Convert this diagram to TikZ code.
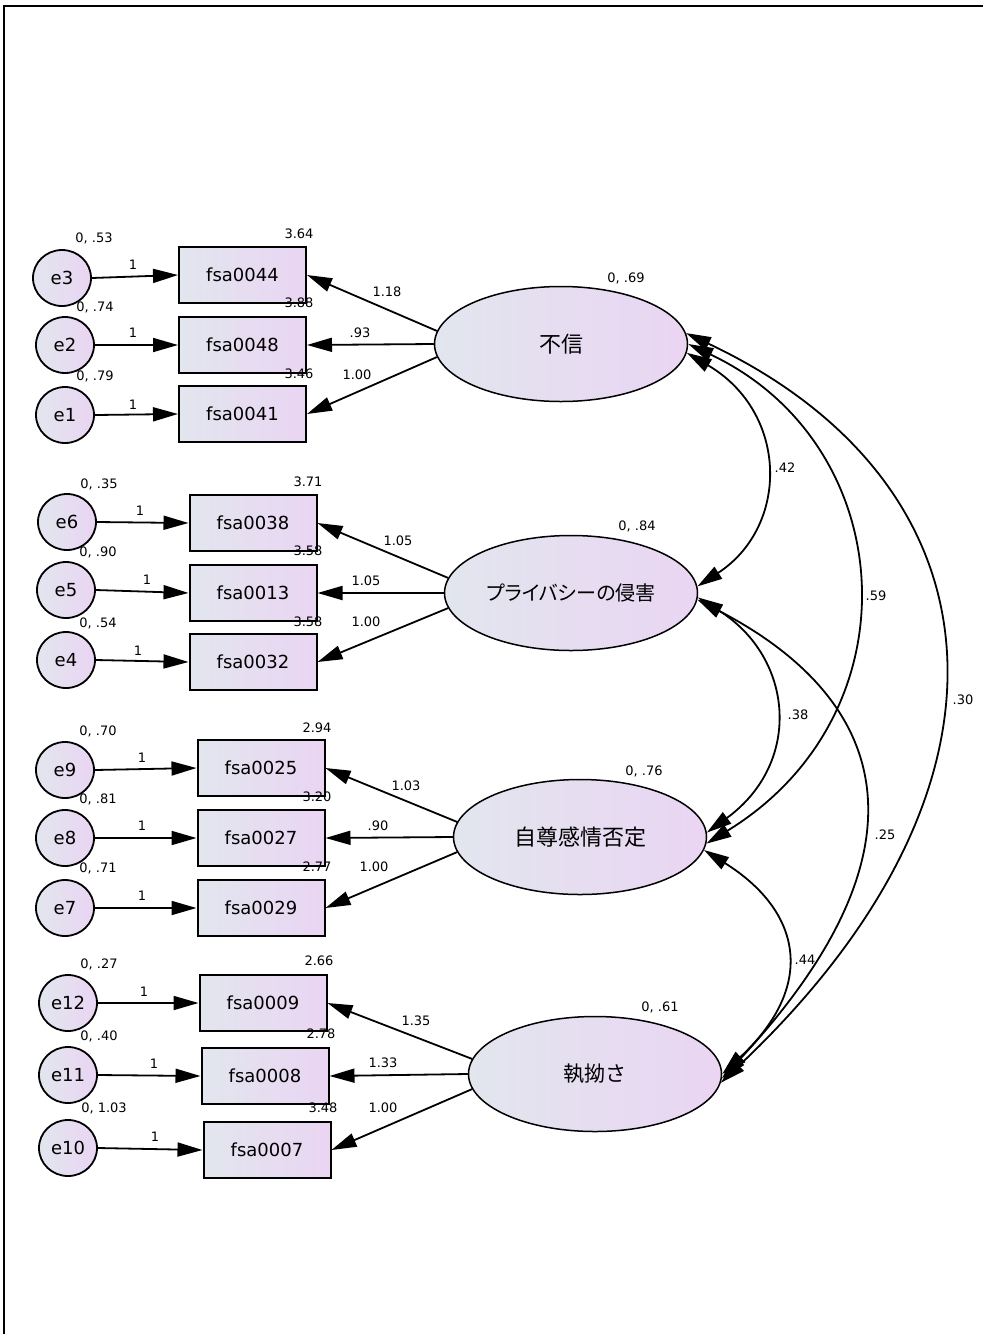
\documentclass[tikz,border=0pt]{standalone}
\usepackage{fontspec}
\setmainfont{DejaVu Sans}
\newfontfamily\jp{Noto Sans CJK JP}
\newfontfamily\jpp[RawFeature=+palt]{Noto Sans CJK JP}
\usetikzlibrary{arrows.meta,shapes.geometric}
\definecolor{cA}{RGB}{226,230,238}
\definecolor{cB}{RGB}{234,213,243}
\begin{document}
\begin{tikzpicture}[x=1pt,y=-1pt,
  grad/.style={left color=cA,right color=cB},
  lat/.style={ellipse,draw,line width=1.5pt,minimum width=253,minimum height=115,inner sep=0,grad,font=\jp\fontsize{22}{26}\selectfont},
  err/.style={ellipse,draw,line width=1.8pt,minimum width=58,minimum height=56,inner sep=0,grad,font=\fontsize{18}{22}\selectfont},
  obs/.style={rectangle,draw,line width=2pt,minimum width=127,minimum height=56,inner sep=0,grad,font=\fontsize{18}{22}\selectfont},
  num/.style={inner sep=0,font=\fontsize{13}{15}\selectfont},
  tip/.tip={Triangle[length=25pt,width=14pt]},
  arr/.style={line width=1.8pt,-tip},
  cov/.style={line width=1.8pt,tip-tip}]
\useasboundingbox (0,0) rectangle (983,1334);
\draw[line width=2pt] (4,1334) -- (4,6) -- (983,6);

% group 1
\node[err] (e3) at (62,278) {e3};
\node[err] (e2) at (65,345) {e2};
\node[err] (e1) at (65,415) {e1};
\node[obs] (o44) at (242.5,275) {fsa0044};
\node[obs] (o48) at (242.5,345) {fsa0048};
\node[obs] (o41) at (242.5,414) {fsa0041};
\node[lat] (F1) at (561,344) {不信};
% group 2
\node[err] (e6) at (67,522) {e6};
\node[err] (e5) at (66,590) {e5};
\node[err] (e4) at (66,660) {e4};
\node[obs] (o38) at (253,523) {fsa0038};
\node[obs] (o13) at (253,593) {fsa0013};
\node[obs] (o32) at (253,662) {fsa0032};
\node[lat,font=\jpp\fontsize{20}{24}\selectfont] (F2) at (571,593) {プライバシーの侵害};
% group 3
\node[err] (e9) at (65,770) {e9};
\node[err] (e8) at (65,838) {e8};
\node[err] (e7) at (65,908) {e7};
\node[obs] (o25) at (261,768) {fsa0025};
\node[obs] (o27) at (261,838) {fsa0027};
\node[obs] (o29) at (261,908) {fsa0029};
\node[lat] (F3) at (580,837) {自尊感情否定};
% group 4
\node[err] (e12) at (68,1003) {e12};
\node[err] (e11) at (68,1075) {e11};
\node[err] (e10) at (68,1148) {e10};
\node[obs] (o09) at (263,1003) {fsa0009};
\node[obs] (o08) at (265,1076) {fsa0008};
\node[obs] (o07) at (267,1150) {fsa0007};
\node[lat,font=\jp\fontsize{21}{25}\selectfont] (F4) at (595,1074) {執拗さ};

% error arrows
\foreach \e/\o in {e3/o44,e2/o48,e1/o41,e6/o38,e5/o13,e4/o32,e9/o25,e8/o27,e7/o29,e12/o09,e11/o08,e10/o07}
  \draw[arr] (\e.east) -- (\o.west);
% loadings
\draw[arr] (F1.174) -- (o44.east);
\draw[arr] (F1.180) -- (o48.east);
\draw[arr] (F1.186) -- (o41.east);
\draw[arr] (F2.173) -- (o38.east);
\draw[arr] (F2.180) -- (o13.east);
\draw[arr] (F2.187) -- (o32.east);
\draw[arr] (F3.173) -- (o25.east);
\draw[arr] (F3.180) -- (o27.east);
\draw[arr] (F3.187) -- (o29.east);
\draw[arr] (F4.173) -- (o09.east);
\draw[arr] (F4.180) -- (o08.east);
\draw[arr] (F4.187) -- (o07.east);

% covariances
\draw[cov] (F1.-4) .. controls +(102,60) and +(92,-60) .. (F2.3);
\draw[cov] (F1.0) .. controls +(212,100) and +(212,-130) .. (F3.-3);
\draw[cov] (F1.5) .. controls +(318,150) and +(318,-300) .. (F4.-4);
\draw[cov] (F2.-2) .. controls +(96,60) and +(96,-70) .. (F3.2);
\draw[cov] (F2.-3) .. controls +(192,100) and +(215,-230) .. (F4.-2);
\draw[cov] (F3.-6) .. controls +(96,60) and +(96,-90) .. (F4.0);

% labels group 1
\node[num] (v3) at (94,238) {0, .53};
\node[num] (v2) at (95,307) {0, .74};
\node[num] (v1) at (95,376) {0, .79};
\node[num] (m44) at (299,234) {3.64};
\node[num] (m48) at (299,303) {3.88};
\node[num] (m41) at (299,374) {3.46};
\node[num] (w3) at (133,265) {1};
\node[num] (w2) at (133,333) {1};
\node[num] (w1) at (133,405) {1};
\node[num] (l44) at (387,292) {1.18};
\node[num] (l48) at (360,333) {.93};
\node[num] (l41) at (357,375) {1.00};
\node[num] (vF1) at (626,278) {0, .69};
% labels group 2
\node[num] (v6) at (99,484) {0, .35};
\node[num] (v5) at (98,552) {0, .90};
\node[num] (v4) at (98,623) {0, .54};
\node[num] (m38) at (308,482) {3.71};
\node[num] (m13) at (308,551) {3.58};
\node[num] (m32) at (308,622) {3.58};
\node[num] (w6) at (140,511) {1};
\node[num] (w5) at (147,580) {1};
\node[num] (w4) at (138,651) {1};
\node[num] (l38) at (398,541) {1.05};
\node[num] (l13) at (366,581) {1.05};
\node[num] (l32) at (366,622) {1.00};
\node[num] (vF2) at (637,526) {0, .84};
% labels group 3
\node[num] (v9) at (98,731) {0, .70};
\node[num] (v8) at (98,799) {0, .81};
\node[num] (v7) at (98,868) {0, .71};
\node[num] (m25) at (317,728) {2.94};
\node[num] (m27) at (317,797) {3.20};
\node[num] (m29) at (317,867) {2.77};
\node[num] (w9) at (142,758) {1};
\node[num] (w8) at (142,826) {1};
\node[num] (w7) at (142,896) {1};
\node[num] (l25) at (406,786) {1.03};
\node[num] (l27) at (378,826) {.90};
\node[num] (l29) at (374,867) {1.00};
\node[num] (vF3) at (644,771) {0, .76};
% labels group 4
\node[num] (v12) at (99,964) {0, .27};
\node[num] (v11) at (99,1036) {0, .40};
\node[num] (v10) at (104,1108) {0, 1.03};
\node[num] (m09) at (319,961) {2.66};
\node[num] (m08) at (321,1034) {2.78};
\node[num] (m07) at (323,1108) {3.48};
\node[num] (w12) at (144,992) {1};
\node[num] (w11) at (154,1064) {1};
\node[num] (w10) at (155,1137) {1};
\node[num] (l09) at (416,1021) {1.35};
\node[num] (l08) at (383,1063) {1.33};
\node[num] (l07) at (383,1108) {1.00};
\node[num] (vF4) at (660,1007) {0, .61};
% covariance labels
\node[num] (c12) at (785,468) {.42};
\node[num] (c13) at (876,596) {.59};
\node[num] (c14) at (963,700) {.30};
\node[num] (c23) at (798,715) {.38};
\node[num] (c24) at (885,835) {.25};
\node[num] (c34) at (805,960) {.44};
\end{tikzpicture}
\end{document}
